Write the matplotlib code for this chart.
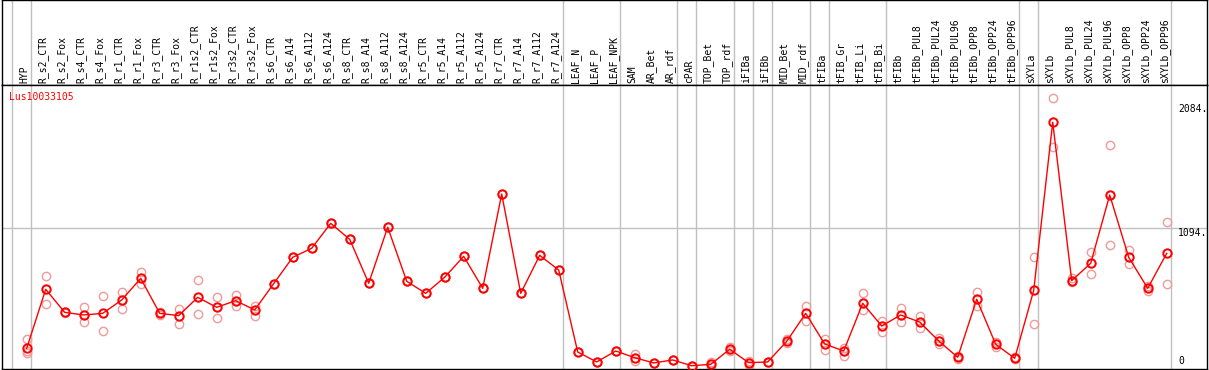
import matplotlib
matplotlib.use("Agg")
import matplotlib.pyplot as plt
import matplotlib.transforms as mtransforms
import numpy as np

# sample names, in plot order
samples = ["HYP",
           "R_s2_CTR", "R_s2_Fox", "R_s4_CTR", "R_s4_Fox", "R_r1_CTR", "R_r1_Fox",
           "R_r3_CTR", "R_r3_Fox", "R_r1s2_CTR", "R_r1s2_Fox", "R_r3s2_CTR", "R_r3s2_Fox",
           "R_s6_CTR", "R_s6_A14", "R_s6_A112", "R_s6_A124",
           "R_s8_CTR", "R_s8_A14", "R_s8_A112", "R_s8_A124",
           "R_r5_CTR", "R_r5_A14", "R_r5_A112", "R_r5_A124",
           "R_r7_CTR", "R_r7_A14", "R_r7_A112", "R_r7_A124",
           "LEAF_N", "LEAF_P", "LEAF_NPK", "SAM", "AR_Bet", "AR_rdf", "cPAR",
           "TOP_Bet", "TOP_rdf", "iFIBa", "iFIBb", "MID_Bet", "MID_rdf",
           "tFIBa", "tFIB_Gr", "tFIB_Li", "tFIB_Bi",
           "tFIBb", "tFIBb_PUL8", "tFIBb_PUL24", "tFIBb_PUL96",
           "tFIBb_OPP8", "tFIBb_OPP24", "tFIBb_OPP96",
           "sXYLa", "sXYLb", "sXYLb_PUL8", "sXYLb_PUL24", "sXYLb_PUL96",
           "sXYLb_OPP8", "sXYLb_OPP24", "sXYLb_OPP96"]

# mean expression
mean_vals = [140, 609, 426, 405, 418, 524, 696, 418, 400, 545, 466, 519, 445,
             654, 863, 935, 1133, 1006, 657, 1102, 673, 577, 705, 871, 617,
             1366, 577, 879, 762,
             111, 32, 119, 66, 24, 48, 2, 13, 133, 26, 32, 196, 418,
             175, 119, 498, 318,
             405, 349, 199, 69, 530, 172, 61,
             601, 1936, 678, 816, 1358, 863, 617, 895]

# replicates
rep_a = [214, 717, 430, 466, 554, 585, 744, 430, 453, 681, 546, 566, 479,
         654, 863, 935, 1133, 1006, 657, 1102, 673, 577, 705, 871, 617,
         1366, 577, 879, 762,
         111, 32, 119, 98, 24, 48, 2, 29, 153, 37, 32, 211, 477,
         214, 141, 577, 360,
         458, 400, 220, 79, 585, 191, 74,
         868, 2126, 697, 903, 1753, 921, 635, 1144]
rep_b = [106, 495, 420, 347, 276, 450, 649, 406, 336, 411, 384, 479, 400,
         654, 863, 935, 1133, 1006, 657, 1102, 673, 577, 705, 871, 617,
         1366, 577, 879, 762,
         111, 32, 119, 40, 24, 48, 2, 0, 122, 8, 32, 180, 355,
         130, 82, 442, 272,
         347, 299, 175, 53, 474, 149, 53,
         331, 1742, 665, 728, 959, 808, 598, 649]
rep_c = [122, 609, 426, 405, 418, 524, 696, 418, 400, 545, 466, 519, 445,
         654, 863, 935, 1133, 1006, 657, 1102, 673, 577, 705, 871, 617,
         1366, 577, 879, 762,
         111, 32, 119, 66, 24, 48, 2, 13, 133, 26, 32, 196, 418,
         175, 119, 498, 318,
         405, 349, 199, 69, 530, 172, 61,
         601, 1936, 678, 816, 1358, 863, 617, 895]

# group boundaries (index of last sample in each group)
group_ends = [-1, 0, 28, 31, 34, 35, 37, 38, 39, 41, 42, 45, 52, 53, 60]
y_ticks = [0, 1094, 2084]

mono = "DejaVu Sans Mono"
fs = 7
grey = "#c0c0c0"

x = np.arange(len(samples))
xlim = (-1.3, 62.12)

fig = plt.figure(figsize=(12.09, 3.70), dpi=100)
W, H = 1209, 370
ax_head = fig.add_axes([2 / W, (H - 85) / H, 1205 / W, 85 / H])
ax = fig.add_axes([2 / W, 1 / H, 1205 / W, 284 / H])

for a in (ax_head, ax):
    a.set_xlim(*xlim)
    a.set_xticks([])
    a.set_yticks([])
    for s in a.spines.values():
        s.set_color("black")
        s.set_linewidth(1)
    for g in group_ends:
        a.axvline(g + 0.21, color=grey, lw=1, zorder=0)

ax_head.set_ylim(0, 1)
trans = mtransforms.blended_transform_factory(ax_head.transData, ax_head.transAxes)
for i, name in enumerate(samples):
    ax_head.text(i - 0.13, 0.027, name, rotation=90, ha="center", va="bottom",
                 fontsize=fs, family=mono, transform=trans)

ax.set_ylim(-24, 2232)
ax.axhline(1094, color=grey, lw=1, zorder=0)

for reps in (rep_a, rep_b, rep_c):
    ax.plot(x, reps, linestyle="none", marker="o", ms=6, mfc="none",
            mec="#f09a9a", mew=1, zorder=2)
ax.plot(x, mean_vals, color="red", lw=1, marker="o", ms=6, mfc="none",
        mec="red", mew=1.4, zorder=3)

for t in y_ticks:
    ax.text(60.6, t, f"{t}." if t else "0", va="bottom" if t == 0 else "top",
            ha="left", fontsize=fs, family=mono)

ax.text(7 / 1205, 0.975, "Lus10033105", color="red", fontsize=fs, family=mono,
        transform=ax.transAxes, va="top", ha="left")

fig.savefig("out.png", dpi=100)
